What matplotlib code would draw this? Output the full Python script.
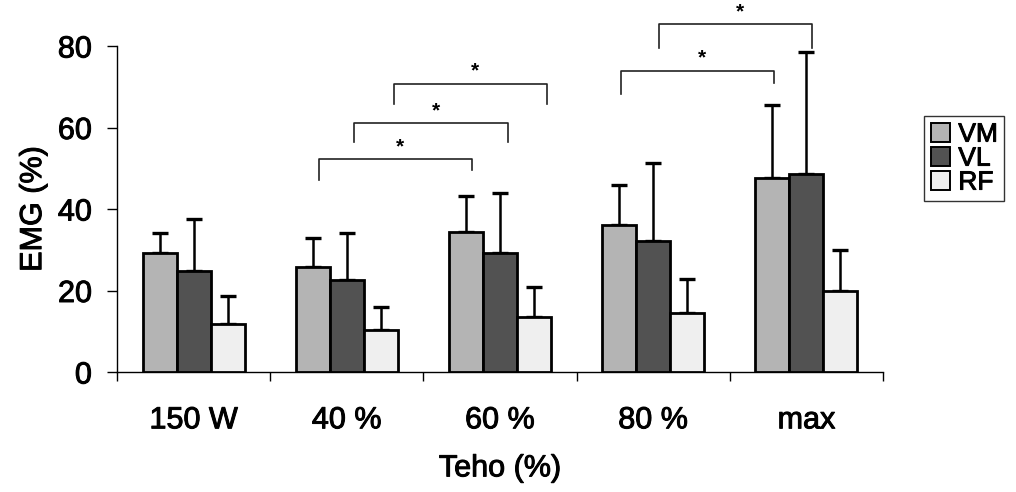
import numpy as np
import matplotlib
matplotlib.use("Agg")
import matplotlib.pyplot as plt
from matplotlib.patches import Patch
import matplotlib.patheffects as pe

plt.rcParams['font.family'] = ['Liberation Sans', 'DejaVu Sans']

categories = ["150 W", "40 %", "60 %", "80 %", "max"]
series = ["VM", "VL", "RF"]
vm_mean = [29.2, 25.8, 34.3, 36.1, 47.6]
vm_sd = [4.9, 7.1, 8.9, 9.8, 17.9]
vl_mean = [24.8, 22.6, 29.2, 32.2, 48.6]
vl_sd = [12.7, 11.6, 14.7, 19.1, 29.9]
rf_mean = [11.8, 10.3, 13.5, 14.6, 19.9]
rf_sd = [6.9, 5.6, 7.3, 8.2, 10.0]
colors = ['#b4b4b4', '#525252', '#efefef']

# significance brackets: (group1, series1, group2, series2, line y, left leg end, right leg end, x shift)
brackets = [
    (1, 0, 2, 0, 52.2, 47.0, 49.6, 0.04),
    (1, 1, 2, 1, 61.0, 56.4, 56.5, 0.05),
    (1, 2, 2, 2, 70.7, 65.8, 65.8, 0.085),
    (3, 0, 4, 0, 73.9, 68.2, 70.9, 0.01),
    (3, 1, 4, 1, 85.3, 79.5, 79.5, 0.035),
]

means = [vm_mean, vl_mean, rf_mean]
sds = [vm_sd, vl_sd, rf_sd]
thick = [pe.withStroke(linewidth=0.7, foreground='black')]

fig = plt.figure(figsize=(10.16, 4.92), dpi=100)
ax = fig.add_axes([117/1016, 1-372/492, 766/1016, 326/492])

x = np.arange(len(categories))
w = 0.222
for i in range(3):
    pos = x + (i-1)*w
    ax.bar(pos, means[i], w, color=colors[i], edgecolor='black', linewidth=2.0, zorder=3)
    ax.errorbar(pos, means[i], yerr=[np.zeros(5), sds[i]], fmt='none', ecolor='black',
                elinewidth=1.8, capsize=5.5, capthick=2.4, zorder=2)

for g1, s1, g2, s2, yl, yb1, yb2, sh in brackets:
    x1 = g1 + (s1-1)*w + sh
    x2 = g2 + (s2-1)*w + sh
    ax.plot([x1, x1, x2, x2], [yb1, yl, yl, yb2], color='#222222', lw=1.2, clip_on=False, zorder=4)
    ax.text((x1+x2)/2 + 0.03, yl+0.8, '*', ha='center', va='bottom', fontsize=15,
            fontweight='bold', clip_on=False)

ax.set_xlim(-0.5, 4.5)
ax.set_ylim(0, 80)
ax.set_yticks([0, 20, 40, 60, 80])
ax.set_xticks(x)
ax.set_xticklabels(categories)
ax.set_xticks(np.arange(-0.5, 5, 1), minor=True)
ax.tick_params(axis='x', which='major', length=0, pad=24, labelsize=22)
ax.tick_params(axis='x', which='minor', length=6.5, width=1, direction='out')
ax.tick_params(axis='y', length=7, width=1, pad=11, labelsize=22)
for s in ['top', 'right']:
    ax.spines[s].set_visible(False)
for s in ['left', 'bottom']:
    ax.spines[s].set_linewidth(1.0)

ax.set_ylabel('EMG (%)', fontsize=22, labelpad=7)
ax.set_xlabel('Teho (%)', fontsize=22, labelpad=13)
for t in ax.get_xticklabels() + ax.get_yticklabels() + [ax.xaxis.label, ax.yaxis.label]:
    t.set_path_effects(thick)

handles = [Patch(facecolor=colors[i], edgecolor='black', linewidth=1.4, label=series[i]) for i in range(3)]
leg = fig.legend(handles=handles, loc='upper left', bbox_to_anchor=(924/1016, 1-116/492),
                 fontsize=19, frameon=True, fancybox=False, edgecolor='black',
                 handlelength=0.75, handleheight=0.75, handletextpad=0.3, labelspacing=0.0,
                 borderpad=0.25, borderaxespad=0)
leg.get_frame().set_linewidth(1.0)
for t in leg.get_texts():
    t.set_path_effects(thick)

fig.savefig('out.png', dpi=100)
